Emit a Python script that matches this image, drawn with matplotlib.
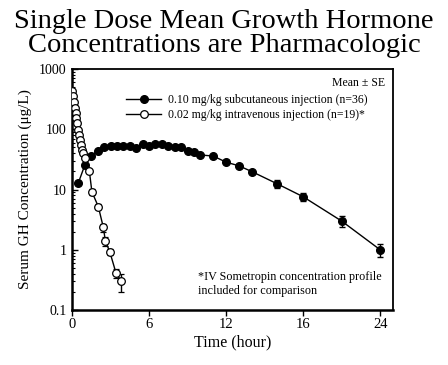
import numpy as np
import matplotlib
matplotlib.use("Agg")
import matplotlib.pyplot as plt
from matplotlib.lines import Line2D
from matplotlib.ticker import LogLocator, NullFormatter, FixedLocator, FixedFormatter

plt.rcParams['font.family'] = ['Liberation Serif', 'DejaVu Serif']

# subcutaneous 0.10 mg/kg (n=36)
sc_time = [0.5, 1.0, 1.5, 2.0, 2.5, 3.0, 3.5, 4.0, 4.5, 5.0, 5.5, 6.0, 6.5, 7.0,
           7.5, 8.0, 8.5, 9.0, 9.5, 10.0, 11.0, 12.0, 13.0, 14.0, 16.0, 18.0, 21.0, 24.0]
sc_conc = [13.0, 25.5, 36, 44, 50, 53, 53, 53, 53, 49.5, 56, 53, 56, 56,
           53, 50, 50, 44, 41.5, 37.5, 36, 28.5, 24.8, 19.9, 12.4, 7.6, 3.0, 1.0]
sc_se = [0] * 24 + [1.8, 1.2, 0.6, 0.25]

# intravenous 0.02 mg/kg (n=19)
iv_time = [0.0, 0.08, 0.17, 0.25, 0.31, 0.35, 0.4, 0.47, 0.55, 0.62, 0.67, 0.75,
           0.88, 1.05, 1.35, 1.55, 2.05, 2.44, 2.6, 2.94, 3.43, 3.84]
iv_conc = [440, 360, 286, 223, 184, 152, 126, 98, 80, 66, 55, 46,
           41, 33, 20.4, 9.2, 5.2, 2.36, 1.4, 0.93, 0.41, 0.30]
iv_se = [0] * 15 + [1.0, 0.5, 0.35, 0.25, 0.1, 0.07, 0.1]

xtick_pos = [0, 6, 12, 18, 24]
xtick_labels = ['0', '6', '12', '16', '24']

sc_label = '0.10 mg/kg subcutaneous injection (n=36)'
iv_label = '0.02 mg/kg intravenous injection (n=19)*'

fig = plt.figure(figsize=(4.48, 3.65), dpi=100)
ax = fig.add_axes([0.1607, 0.1507, 0.7165, 0.660])

ax.errorbar(sc_time, sc_conc, yerr=sc_se, color='black', marker='o', markersize=5.5,
            mfc='black', mec='black', lw=1, elinewidth=1, capsize=2, zorder=3)
ax.errorbar(iv_time, iv_conc, yerr=iv_se, color='black', marker='o', markersize=5.5,
            mfc='white', mec='black', mew=0.9, lw=1, elinewidth=1, capsize=2, zorder=4)

ax.set_yscale('log')
ax.set_ylim(0.1, 1000)
ax.set_xlim(0, 25)
ax.yaxis.set_minor_locator(LogLocator(base=10, subs=np.arange(2, 10)))
ax.yaxis.set_minor_formatter(NullFormatter())
ax.set_yticks([0.1, 1, 10, 100, 1000])
ax.set_yticklabels(['0.1', '1', '10', '100', '1000'])
ax.xaxis.set_major_locator(FixedLocator(xtick_pos))
ax.xaxis.set_major_formatter(FixedFormatter(xtick_labels))

ax.tick_params(axis='y', which='major', direction='in', length=4, width=1, labelsize=10, pad=4)
ax.tick_params(axis='y', which='minor', direction='in', length=2, width=0.8)
ax.tick_params(axis='x', which='major', direction='out', length=4, width=1, labelsize=10.5, pad=2)

for side in ['left', 'bottom']:
    ax.spines[side].set_linewidth(1.8)
for side in ['top', 'right']:
    ax.spines[side].set_linewidth(1.3)

ax.set_xlabel('Time (hour)', fontsize=11.5, labelpad=2)
ax.set_ylabel('Serum GH Concentration (\u03bcg/L)', fontsize=11, labelpad=5)

handles = [Line2D([], [], color='black', lw=1, marker='o', markersize=5.5, mfc='black'),
           Line2D([], [], color='black', lw=1, marker='o', markersize=5.5, mfc='white', mew=0.9)]
ax.legend(handles, [sc_label, iv_label], loc='upper left', bbox_to_anchor=(0.168, 0.895),
          frameon=False, fontsize=8.5, handlelength=3.0, handletextpad=0.6,
          labelspacing=0.2, borderpad=0, borderaxespad=0)
ax.text(0.975, 0.942, 'Mean \u00b1 SE', transform=ax.transAxes, ha='right', va='center',
        fontsize=8.5)
ax.text(0.393, 0.16, '*IV Sometropin concentration profile\nincluded for comparison',
        transform=ax.transAxes, ha='left', va='top', fontsize=8.7, linespacing=1.2)

fig.text(0.5, 0.975, 'Single Dose Mean Growth Hormone\nConcentrations are Pharmacologic',
         ha='center', va='top', fontsize=20.5, linespacing=0.95)

fig.savefig('out.png', dpi=100)
